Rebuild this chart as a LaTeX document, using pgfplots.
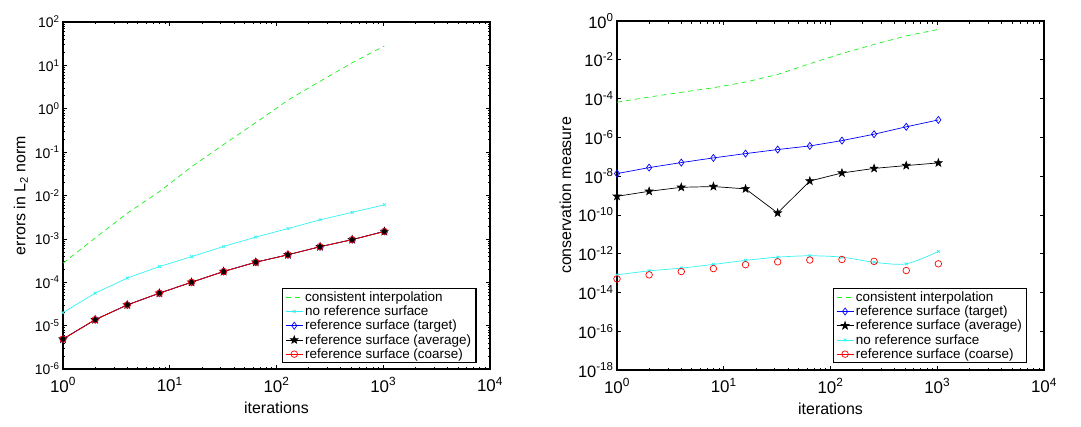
\documentclass[border=0pt]{standalone}
\usepackage{fontspec}
\setmainfont{Liberation Sans}
\usepackage{pgfplots}
\pgfplotsset{compat=1.18}
\definecolor{mgreen}{rgb}{0.1,0.95,0.1}
\definecolor{mcyan}{rgb}{0.2,0.95,0.95}
\pgfdeclareplotmark{fstar}{%
  \pgfpathmoveto{\pgfqpointpolar{90}{1.25\pgfplotmarksize}}%
  \pgfpathlineto{\pgfqpointpolar{126}{0.5\pgfplotmarksize}}%
  \pgfpathlineto{\pgfqpointpolar{162}{1.25\pgfplotmarksize}}%
  \pgfpathlineto{\pgfqpointpolar{198}{0.5\pgfplotmarksize}}%
  \pgfpathlineto{\pgfqpointpolar{234}{1.25\pgfplotmarksize}}%
  \pgfpathlineto{\pgfqpointpolar{270}{0.5\pgfplotmarksize}}%
  \pgfpathlineto{\pgfqpointpolar{306}{1.25\pgfplotmarksize}}%
  \pgfpathlineto{\pgfqpointpolar{342}{0.5\pgfplotmarksize}}%
  \pgfpathlineto{\pgfqpointpolar{18}{1.25\pgfplotmarksize}}%
  \pgfpathlineto{\pgfqpointpolar{54}{0.5\pgfplotmarksize}}%
  \pgfpathclose
  \pgfusepathqfillstroke}
\pgfplotsset{
    legend image code/.code={\draw[line width=0.7pt,#1, sharp plot, mark repeat=2, mark phase=2] plot coordinates {(0cm,0cm)(0.3cm,0cm)(0.6cm,0cm)};},
}
\newcommand{\lfont}{\fontsize{13.5}{15}\selectfont}
\begin{document}
\begin{tikzpicture}
\path[use as bounding box] (-63bp,-58bp) rectangle (1018bp,369bp);
\begin{axis}[at={(0,0)}, anchor=south west, height=347bp,
    xmode=log, ymode=log,
    scale only axis, width=427bp,
    xmin=1, xmax=1e4,
    axis line style={line width=1.3pt},
    tick style={black, line width=0.6pt},
    major tick length=4bp, minor tick length=2.5bp,
    tick align=inside, xtick pos=both, ytick pos=both,
    xtick={1,10,100,1000,10000},
    yticklabel style={font=\fontsize{14}{16}\selectfont},
    xticklabel style={font=\fontsize{17}{19}\selectfont, yshift=-5bp},
    xticklabel={\pgfmathtruncatemacro{\myexp}{round(\tick/ln(10))}10\textsuperscript{\myexp}},
    yticklabel={\pgfmathtruncatemacro{\myexp}{round(\tick/ln(10))}10\textsuperscript{\myexp}},
    xlabel={iterations},
    xlabel style={font=\fontsize{16}{18}\selectfont, yshift=-3bp},
    ylabel style={font=\fontsize{16}{18}\selectfont},
    legend cell align=left,
    legend style={draw=black, line width=1.2pt, font=\lfont, nodes={font=\lfont},
      row sep=-1bp, inner xsep=3bp, inner ysep=1bp},
    every axis plot/.append style={line width=0.7pt},
  ymin=1e-6, ymax=1e2,
  ytick={1e-6,1e-5,1e-4,1e-3,1e-2,1e-1,1,10,100},
  ylabel={errors in L\textsubscript{2} norm},
  legend style={at={(axis cs:7500,1.35e-6)}, anchor=south east}]
\addplot[mgreen, dashed, dash pattern=on 5bp off 4bp, no marks] coordinates {
(1,2.75e-4)(2,1.05e-3)(4,3.9e-3)(8,1.23e-2)(16,4.6e-2)(32,0.15)(64,0.48)(128,1.58)(256,4.3)(512,11.5)(1024,28)};
\addlegendentry{consistent interpolation}
\addplot[mcyan, mark=x, mark size=2bp] coordinates {
(1,2.0e-5)(2,5.6e-5)(4,1.25e-4)(8,2.3e-4)(16,3.9e-4)(32,6.7e-4)(64,1.1e-3)(128,1.73e-3)(256,2.75e-3)(512,4.1e-3)(1024,6.1e-3)};
\addlegendentry{no reference surface}
\addplot[blue, mark=diamond, mark size=3.5bp] coordinates {
(1,4.9e-6)(2,1.37e-5)(4,3.0e-5)(8,5.6e-5)(16,1.0e-4)(32,1.77e-4)(64,2.9e-4)(128,4.3e-4)(256,6.6e-4)(512,9.6e-4)(1024,1.5e-3)};
\addlegendentry{reference surface (target)}
\addplot[black, mark=fstar, mark size=3.2bp] coordinates {
(1,4.9e-6)(2,1.37e-5)(4,3.0e-5)(8,5.6e-5)(16,1.0e-4)(32,1.77e-4)(64,2.9e-4)(128,4.3e-4)(256,6.6e-4)(512,9.6e-4)(1024,1.48e-3)};
\addlegendentry{reference surface (average)}
\addplot[red, mark=o, mark size=3.3bp] coordinates {
(1,4.9e-6)(2,1.37e-5)(4,3.0e-5)(8,5.6e-5)(16,1.0e-4)(32,1.77e-4)(64,2.9e-4)(128,4.3e-4)(256,6.6e-4)(512,9.6e-4)(1024,1.48e-3)};
\addlegendentry{reference surface (coarse)}
\end{axis}
\begin{axis}[at={(554bp,-1bp)}, anchor=south west, height=349bp,
    xmode=log, ymode=log,
    scale only axis, width=427bp,
    xmin=1, xmax=1e4,
    axis line style={line width=1.3pt},
    tick style={black, line width=0.6pt},
    major tick length=4bp, minor tick length=2.5bp,
    tick align=inside, xtick pos=both, ytick pos=both,
    xtick={1,10,100,1000,10000},
    yticklabel style={font=\fontsize{16.5}{18}\selectfont},
    xticklabel style={font=\fontsize{17}{19}\selectfont, yshift=-5bp},
    xticklabel={\pgfmathtruncatemacro{\myexp}{round(\tick/ln(10))}10\textsuperscript{\myexp}},
    yticklabel={\pgfmathtruncatemacro{\myexp}{round(\tick/ln(10))}10\textsuperscript{\myexp}},
    xlabel={iterations},
    xlabel style={font=\fontsize{16}{18}\selectfont, yshift=-3bp},
    ylabel style={font=\fontsize{16}{18}\selectfont},
    legend cell align=left,
    legend style={draw=black, line width=1.2pt, font=\lfont, nodes={font=\lfont},
      row sep=-1bp, inner xsep=3bp, inner ysep=1bp},
    every axis plot/.append style={line width=0.7pt},
  ymin=1e-18, ymax=1,
  ytick={1e-18,1e-16,1e-14,1e-12,1e-10,1e-8,1e-6,1e-4,1e-2,1},
  yminorticks=false,
  ylabel={conservation measure},
  legend style={at={(axis cs:7000,2.2e-18)}, anchor=south east}]
\addplot[mgreen, dashed, dash pattern=on 5bp off 4bp, no marks] coordinates {
(1,6.5e-5)(2,1.2e-4)(4,2.1e-4)(8,3.6e-4)(16,7.1e-4)(32,1.75e-3)(64,6.3e-3)(128,2.1e-2)(256,6.2e-2)(512,0.17)(1024,0.37)};
\addlegendentry{consistent interpolation}
\addplot[blue, mark=diamond, mark size=3.5bp] coordinates {
(1,1.35e-8)(2,2.75e-8)(4,5.0e-8)(8,8.7e-8)(16,1.45e-7)(32,2.35e-7)(64,3.6e-7)(128,6.8e-7)(256,1.45e-6)(512,3.5e-6)(1024,7.9e-6)};
\addlegendentry{reference surface (target)}
\addplot[black, mark=fstar, mark size=3.2bp] coordinates {
(1,9.1e-10)(2,1.65e-9)(4,2.65e-9)(8,2.9e-9)(16,2.2e-9)(32,1.25e-10)(64,5.6e-9)(128,1.45e-8)(256,2.5e-8)(512,3.5e-8)(1024,4.8e-8)};
\addlegendentry{reference surface (average)}
\addplot[mcyan, mark=x, mark size=2bp, smooth] coordinates {
(1,8.1e-14)(2,1.3e-13)(4,1.8e-13)(8,2.8e-13)(16,4.5e-13)(32,6.6e-13)(64,7.8e-13)(128,6.6e-13)(256,3.6e-13)(512,3.0e-13)(1024,1.3e-12)};
\addlegendentry{no reference surface}
\addplot[red, mark=o, mark size=3.3bp, only marks] coordinates {
(1,5.0e-14)(2,8.1e-14)(4,1.2e-13)(8,1.7e-13)(16,2.7e-13)(32,3.8e-13)(64,4.7e-13)(128,5.0e-13)(256,4.0e-13)(512,1.35e-13)(1024,3.0e-13)};
\addlegendentry{reference surface (coarse)}
\end{axis}
\end{tikzpicture}
\end{document}
